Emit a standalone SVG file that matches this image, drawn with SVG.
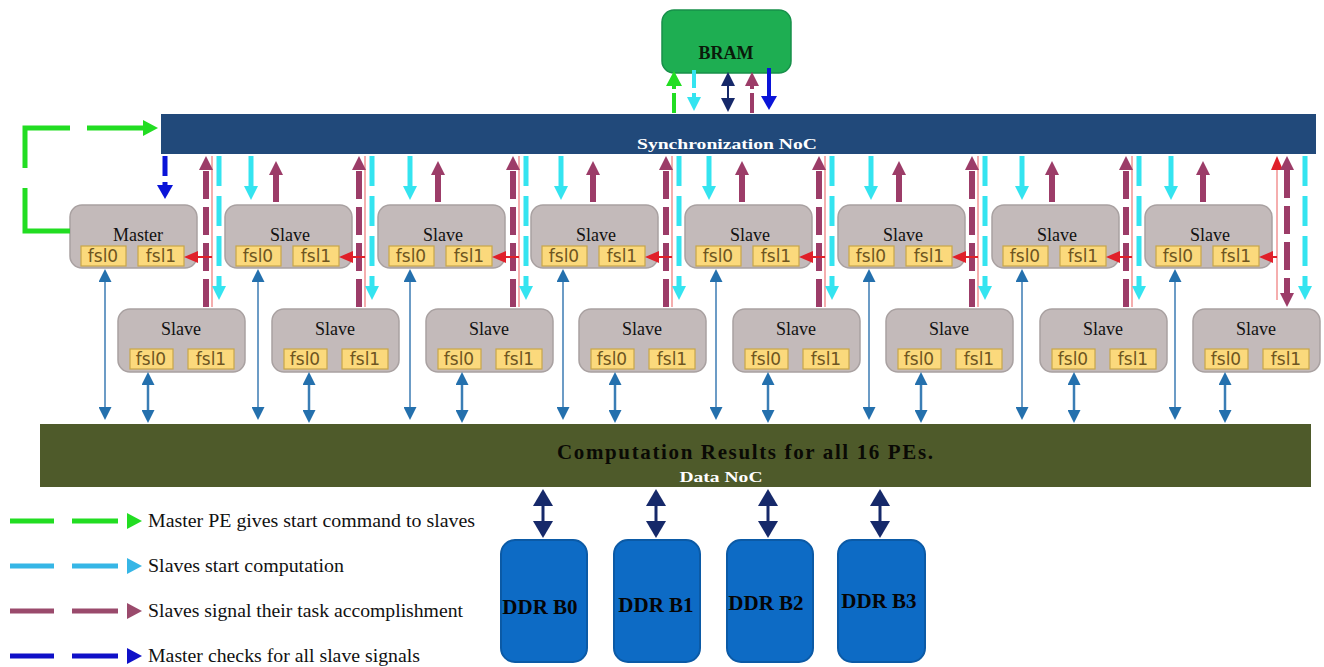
<svg xmlns="http://www.w3.org/2000/svg" width="1324" height="667" viewBox="0 0 1324 667" font-family="Liberation Serif, serif">
<style>
.node{fill:#c3baba;stroke:#a9a1a1;stroke-width:1.5}
.fsl{fill:#fbd97c;stroke:#c8a64a;stroke-width:1.2}
.fslt{font-family:"DejaVu Sans",sans-serif;font-size:17px;fill:#6e5520;text-anchor:middle}
.pe{font-size:18px;fill:#111;text-anchor:middle}
.pur{stroke:#9c3c68;stroke-width:6;fill:none;stroke-dasharray:28 8}
.cyan{stroke:#34e4f0;stroke-width:5;fill:none;stroke-dasharray:30 10}
.pink{stroke:#f39a9a;stroke-width:1.6;fill:none}
.red{stroke:#e0202a;stroke-width:2;fill:none}
.steel{stroke:#6c9cc6;stroke-width:2;fill:none}
.steel2{stroke:#3a7db5;stroke-width:2.5;fill:none}
.navy{stroke:#16296a;stroke-width:3;fill:none}
.leg{font-size:18px;fill:#111}
.ddr{fill:#0d6bc5;stroke:#0b5aa6;stroke-width:2}
.ddrt{font-size:21px;font-weight:bold;fill:#050505;text-anchor:middle}
</style>
<defs>
<marker id="mPur" viewBox="0 0 10 10" refX="0" refY="5" markerWidth="14" markerHeight="14" markerUnits="userSpaceOnUse" orient="auto-start-reverse"><path d="M0,0 L10,5 L0,10 z" fill="#9c3c68"/></marker>
<marker id="mCyan" viewBox="0 0 10 10" refX="0" refY="5" markerWidth="14" markerHeight="14" markerUnits="userSpaceOnUse" orient="auto-start-reverse"><path d="M0,0 L10,5 L0,10 z" fill="#34e4f0"/></marker>
<marker id="mBlue" viewBox="0 0 10 10" refX="0" refY="5" markerWidth="14" markerHeight="16" markerUnits="userSpaceOnUse" orient="auto-start-reverse" preserveAspectRatio="none"><path d="M0,0 L10,5 L0,10 z" fill="#0a14d8"/></marker>
<marker id="mGreen" viewBox="0 0 10 10" refX="0" refY="5" markerWidth="15" markerHeight="16" markerUnits="userSpaceOnUse" orient="auto-start-reverse" preserveAspectRatio="none"><path d="M0,0 L10,5 L0,10 z" fill="#22dd22"/></marker>
<marker id="mRed" viewBox="0 0 10 10" refX="0" refY="5" markerWidth="14" markerHeight="12" markerUnits="userSpaceOnUse" orient="auto-start-reverse" preserveAspectRatio="none"><path d="M0,0 L10,5 L0,10 z" fill="#e0202a"/></marker>
<marker id="mSteel" viewBox="0 0 10 10" refX="0" refY="5" markerWidth="13" markerHeight="13" markerUnits="userSpaceOnUse" orient="auto-start-reverse"><path d="M0,0 L10,5 L0,10 z" fill="#2470ad"/></marker>
<marker id="mNavy" viewBox="0 0 10 10" refX="0" refY="5" markerWidth="17" markerHeight="20" markerUnits="userSpaceOnUse" orient="auto-start-reverse" preserveAspectRatio="none"><path d="M0,0 L10,5 L0,10 z" fill="#16296a"/></marker>
<marker id="mNavyS" viewBox="0 0 10 10" refX="0" refY="5" markerWidth="14" markerHeight="14" markerUnits="userSpaceOnUse" orient="auto-start-reverse" preserveAspectRatio="none"><path d="M0,0 L10,5 L0,10 z" fill="#16296a"/></marker>
<marker id="lG" viewBox="0 0 10 10" refX="0" refY="5" markerWidth="15" markerHeight="16" markerUnits="userSpaceOnUse" orient="auto" preserveAspectRatio="none"><path d="M0,0 L10,5 L0,10 z" fill="#22dd22"/></marker>
<marker id="lC" viewBox="0 0 10 10" refX="0" refY="5" markerWidth="15" markerHeight="16" markerUnits="userSpaceOnUse" orient="auto" preserveAspectRatio="none"><path d="M0,0 L10,5 L0,10 z" fill="#36b6e6"/></marker>
<marker id="lP" viewBox="0 0 10 10" refX="0" refY="5" markerWidth="15" markerHeight="16" markerUnits="userSpaceOnUse" orient="auto" preserveAspectRatio="none"><path d="M0,0 L10,5 L0,10 z" fill="#9a4a6c"/></marker>
<marker id="lB" viewBox="0 0 10 10" refX="0" refY="5" markerWidth="15" markerHeight="16" markerUnits="userSpaceOnUse" orient="auto" preserveAspectRatio="none"><path d="M0,0 L10,5 L0,10 z" fill="#0f10c8"/></marker>
</defs>
<rect width="1324" height="667" fill="#ffffff"/>

<!-- BRAM -->
<g id="bram">
<rect x="662" y="10" width="129" height="63" rx="12" fill="#1eae52" stroke="#17904a" stroke-width="1.5"/>
<text x="726" y="59" font-size="18" font-weight="bold" fill="#0a1a0a" text-anchor="middle">BRAM</text>
</g>

<!-- Synchronization NoC -->
<g id="sync-noc">
<rect x="161" y="114" width="1155" height="40" fill="#21497a"/>
<text x="727" y="149" font-size="15" font-weight="bold" fill="#ffffff" text-anchor="middle" textLength="180" lengthAdjust="spacingAndGlyphs">Synchronization NoC</text>
</g>

<!-- Data NoC -->
<g id="data-noc">
<rect x="40" y="424" width="1271" height="63" fill="#4e5a2a"/>
<text x="745" y="459" font-size="21" font-weight="bold" fill="#0a0a05" text-anchor="middle" textLength="376" lengthAdjust="spacing">Computation Results for all 16 PEs.</text>
<text x="721" y="482" font-size="15" font-weight="bold" fill="#ffffff" text-anchor="middle" textLength="83" lengthAdjust="spacingAndGlyphs">Data NoC</text>
</g>

<!-- Upper row -->
<g id="master">
<rect class="node" x="70" y="205" width="127" height="63" rx="12"/>
<text class="pe" x="138" y="241">Master</text>
<rect class="fsl" x="81" y="246" width="45" height="20"/><text class="fslt" x="103" y="262">fsl0</text>
<rect class="fsl" x="138" y="246" width="46" height="20"/><text class="fslt" x="161" y="262">fsl1</text>
</g>
<g id="slave-u1"><rect class="node" x="225" y="205" width="127" height="63" rx="12"/><text class="pe" x="290" y="241">Slave</text>
<rect class="fsl" x="236" y="246" width="45" height="20"/><text class="fslt" x="258" y="262">fsl0</text>
<rect class="fsl" x="293" y="246" width="46" height="20"/><text class="fslt" x="316" y="262">fsl1</text></g>
<g id="slave-u2"><rect class="node" x="378" y="205" width="127" height="63" rx="12"/><text class="pe" x="443" y="241">Slave</text>
<rect class="fsl" x="389" y="246" width="45" height="20"/><text class="fslt" x="411" y="262">fsl0</text>
<rect class="fsl" x="446" y="246" width="46" height="20"/><text class="fslt" x="469" y="262">fsl1</text></g>
<g id="slave-u3"><rect class="node" x="531" y="205" width="127" height="63" rx="12"/><text class="pe" x="596" y="241">Slave</text>
<rect class="fsl" x="542" y="246" width="45" height="20"/><text class="fslt" x="564" y="262">fsl0</text>
<rect class="fsl" x="599" y="246" width="46" height="20"/><text class="fslt" x="622" y="262">fsl1</text></g>
<g id="slave-u4"><rect class="node" x="685" y="205" width="127" height="63" rx="12"/><text class="pe" x="750" y="241">Slave</text>
<rect class="fsl" x="696" y="246" width="45" height="20"/><text class="fslt" x="718" y="262">fsl0</text>
<rect class="fsl" x="753" y="246" width="46" height="20"/><text class="fslt" x="776" y="262">fsl1</text></g>
<g id="slave-u5"><rect class="node" x="838" y="205" width="127" height="63" rx="12"/><text class="pe" x="903" y="241">Slave</text>
<rect class="fsl" x="849" y="246" width="45" height="20"/><text class="fslt" x="871" y="262">fsl0</text>
<rect class="fsl" x="906" y="246" width="46" height="20"/><text class="fslt" x="929" y="262">fsl1</text></g>
<g id="slave-u6"><rect class="node" x="992" y="205" width="127" height="63" rx="12"/><text class="pe" x="1057" y="241">Slave</text>
<rect class="fsl" x="1003" y="246" width="45" height="20"/><text class="fslt" x="1025" y="262">fsl0</text>
<rect class="fsl" x="1060" y="246" width="46" height="20"/><text class="fslt" x="1083" y="262">fsl1</text></g>
<g id="slave-u7"><rect class="node" x="1145" y="205" width="127" height="63" rx="12"/><text class="pe" x="1210" y="241">Slave</text>
<rect class="fsl" x="1156" y="246" width="45" height="20"/><text class="fslt" x="1178" y="262">fsl0</text>
<rect class="fsl" x="1213" y="246" width="46" height="20"/><text class="fslt" x="1236" y="262">fsl1</text></g>

<!-- Lower row -->
<g id="slave-l0"><rect class="node" x="118" y="309" width="127" height="63" rx="12"/><text class="pe" x="181" y="335">Slave</text>
<rect class="fsl" x="130" y="349" width="43" height="20"/><text class="fslt" x="151" y="365">fsl0</text>
<rect class="fsl" x="188" y="349" width="46" height="20"/><text class="fslt" x="211" y="365">fsl1</text></g>
<g id="slave-l1"><rect class="node" x="272" y="309" width="127" height="63" rx="12"/><text class="pe" x="335" y="335">Slave</text>
<rect class="fsl" x="284" y="349" width="43" height="20"/><text class="fslt" x="305" y="365">fsl0</text>
<rect class="fsl" x="342" y="349" width="46" height="20"/><text class="fslt" x="365" y="365">fsl1</text></g>
<g id="slave-l2"><rect class="node" x="426" y="309" width="127" height="63" rx="12"/><text class="pe" x="489" y="335">Slave</text>
<rect class="fsl" x="438" y="349" width="43" height="20"/><text class="fslt" x="459" y="365">fsl0</text>
<rect class="fsl" x="496" y="349" width="46" height="20"/><text class="fslt" x="519" y="365">fsl1</text></g>
<g id="slave-l3"><rect class="node" x="579" y="309" width="127" height="63" rx="12"/><text class="pe" x="642" y="335">Slave</text>
<rect class="fsl" x="591" y="349" width="43" height="20"/><text class="fslt" x="612" y="365">fsl0</text>
<rect class="fsl" x="649" y="349" width="46" height="20"/><text class="fslt" x="672" y="365">fsl1</text></g>
<g id="slave-l4"><rect class="node" x="733" y="309" width="127" height="63" rx="12"/><text class="pe" x="796" y="335">Slave</text>
<rect class="fsl" x="745" y="349" width="43" height="20"/><text class="fslt" x="766" y="365">fsl0</text>
<rect class="fsl" x="803" y="349" width="46" height="20"/><text class="fslt" x="826" y="365">fsl1</text></g>
<g id="slave-l5"><rect class="node" x="886" y="309" width="127" height="63" rx="12"/><text class="pe" x="949" y="335">Slave</text>
<rect class="fsl" x="898" y="349" width="43" height="20"/><text class="fslt" x="919" y="365">fsl0</text>
<rect class="fsl" x="956" y="349" width="46" height="20"/><text class="fslt" x="979" y="365">fsl1</text></g>
<g id="slave-l6"><rect class="node" x="1040" y="309" width="127" height="63" rx="12"/><text class="pe" x="1103" y="335">Slave</text>
<rect class="fsl" x="1052" y="349" width="43" height="20"/><text class="fslt" x="1073" y="365">fsl0</text>
<rect class="fsl" x="1110" y="349" width="46" height="20"/><text class="fslt" x="1133" y="365">fsl1</text></g>
<g id="slave-l7"><rect class="node" x="1193" y="309" width="127" height="63" rx="12"/><text class="pe" x="1256" y="335">Slave</text>
<rect class="fsl" x="1205" y="349" width="43" height="20"/><text class="fslt" x="1226" y="365">fsl0</text>
<rect class="fsl" x="1263" y="349" width="46" height="20"/><text class="fslt" x="1286" y="365">fsl1</text></g>

<!-- DDR banks -->
<g id="ddr-b0"><rect class="ddr" x="501" y="540" width="86" height="122" rx="14"/><text class="ddrt" x="540" y="614">DDR B0</text></g>
<g id="ddr-b1"><rect class="ddr" x="614" y="540" width="86" height="122" rx="14"/><text class="ddrt" x="656" y="612">DDR B1</text></g>
<g id="ddr-b2"><rect class="ddr" x="727" y="540" width="86" height="122" rx="14"/><text class="ddrt" x="766" y="610">DDR B2</text></g>
<g id="ddr-b3"><rect class="ddr" x="838" y="540" width="87" height="122" rx="14"/><text class="ddrt" x="879" y="608">DDR B3</text></g>

<g id="connectors">
<!-- BRAM <-> Sync NoC -->
<line x1="674" y1="113" x2="674" y2="86" stroke="#22dd22" stroke-width="4" stroke-dasharray="20 4" marker-end="url(#mGreen)"/>
<line x1="694" y1="70" x2="694" y2="97" stroke="#34e4f0" stroke-width="4" stroke-dasharray="18 5" marker-end="url(#mCyan)"/>
<line x1="728" y1="86" x2="728" y2="98" stroke="#16296a" stroke-width="2" marker-start="url(#mNavyS)" marker-end="url(#mNavyS)"/>
<line x1="752" y1="113" x2="752" y2="86" stroke="#9c3c68" stroke-width="4" stroke-dasharray="20 4" marker-end="url(#mPur)"/>
<line x1="769" y1="68" x2="769" y2="96" stroke="#0a14d8" stroke-width="4" marker-end="url(#mBlue)"/>

<!-- Master start-command loop -->
<path d="M70,231 H25 V128 H143" fill="none" stroke="#22dd22" stroke-width="5" stroke-dasharray="88 20 85 17 60" marker-end="url(#mGreen)"/>
<!-- Master checks slave signals -->
<line x1="165" y1="156" x2="165" y2="185" stroke="#0a14d8" stroke-width="5" stroke-dasharray="20 6" marker-end="url(#mBlue)"/>

<!-- short arrows above upper slaves -->
<line x1="251" y1="156" x2="251" y2="186" class="cyan" stroke-dasharray="16 6" marker-end="url(#mCyan)"/>
<line x1="276" y1="202" x2="276" y2="175" class="pur" stroke-dasharray="22 6" marker-end="url(#mPur)"/>
<line x1="410" y1="156" x2="410" y2="186" class="cyan" stroke-dasharray="16 6" marker-end="url(#mCyan)"/>
<line x1="438" y1="202" x2="438" y2="175" class="pur" stroke-dasharray="22 6" marker-end="url(#mPur)"/>
<line x1="561" y1="156" x2="561" y2="186" class="cyan" stroke-dasharray="16 6" marker-end="url(#mCyan)"/>
<line x1="593" y1="202" x2="593" y2="175" class="pur" stroke-dasharray="22 6" marker-end="url(#mPur)"/>
<line x1="709" y1="156" x2="709" y2="186" class="cyan" stroke-dasharray="16 6" marker-end="url(#mCyan)"/>
<line x1="742" y1="202" x2="742" y2="175" class="pur" stroke-dasharray="22 6" marker-end="url(#mPur)"/>
<line x1="871" y1="156" x2="871" y2="186" class="cyan" stroke-dasharray="16 6" marker-end="url(#mCyan)"/>
<line x1="899" y1="202" x2="899" y2="175" class="pur" stroke-dasharray="22 6" marker-end="url(#mPur)"/>
<line x1="1022" y1="156" x2="1022" y2="186" class="cyan" stroke-dasharray="16 6" marker-end="url(#mCyan)"/>
<line x1="1052" y1="202" x2="1052" y2="175" class="pur" stroke-dasharray="22 6" marker-end="url(#mPur)"/>
<line x1="1171" y1="156" x2="1171" y2="186" class="cyan" stroke-dasharray="16 6" marker-end="url(#mCyan)"/>
<line x1="1203" y1="202" x2="1203" y2="175" class="pur" stroke-dasharray="22 6" marker-end="url(#mPur)"/>

<!-- column links to lower slaves -->
<line class="pink" x1="212" y1="156" x2="212" y2="307"/>
<line class="pur" x1="206" y1="307" x2="206" y2="170" marker-end="url(#mPur)"/>
<line class="cyan" x1="219" y1="156" x2="219" y2="286" marker-end="url(#mCyan)"/>
<line class="red" x1="212" y1="257" x2="198" y2="257" marker-end="url(#mRed)"/>

<line class="pink" x1="365" y1="156" x2="365" y2="307"/>
<line class="pur" x1="359" y1="307" x2="359" y2="170" marker-end="url(#mPur)"/>
<line class="cyan" x1="372" y1="156" x2="372" y2="286" marker-end="url(#mCyan)"/>
<line class="red" x1="365" y1="257" x2="353" y2="257" marker-end="url(#mRed)"/>

<line class="pink" x1="519" y1="156" x2="519" y2="307"/>
<line class="pur" x1="513" y1="307" x2="513" y2="170" marker-end="url(#mPur)"/>
<line class="cyan" x1="526" y1="156" x2="526" y2="286" marker-end="url(#mCyan)"/>
<line class="red" x1="519" y1="257" x2="506" y2="257" marker-end="url(#mRed)"/>

<line class="pink" x1="672" y1="156" x2="672" y2="307"/>
<line class="pur" x1="666" y1="307" x2="666" y2="170" marker-end="url(#mPur)"/>
<line class="cyan" x1="679" y1="156" x2="679" y2="286" marker-end="url(#mCyan)"/>
<line class="red" x1="672" y1="257" x2="659" y2="257" marker-end="url(#mRed)"/>

<line class="pink" x1="825" y1="156" x2="825" y2="307"/>
<line class="pur" x1="819" y1="307" x2="819" y2="170" marker-end="url(#mPur)"/>
<line class="cyan" x1="832" y1="156" x2="832" y2="286" marker-end="url(#mCyan)"/>
<line class="red" x1="825" y1="257" x2="813" y2="257" marker-end="url(#mRed)"/>

<line class="pink" x1="978" y1="156" x2="978" y2="307"/>
<line class="pur" x1="972" y1="307" x2="972" y2="170" marker-end="url(#mPur)"/>
<line class="cyan" x1="985" y1="156" x2="985" y2="286" marker-end="url(#mCyan)"/>
<line class="red" x1="978" y1="257" x2="966" y2="257" marker-end="url(#mRed)"/>

<line class="pink" x1="1132" y1="156" x2="1132" y2="307"/>
<line class="pur" x1="1126" y1="307" x2="1126" y2="170" marker-end="url(#mPur)"/>
<line class="cyan" x1="1139" y1="156" x2="1139" y2="286" marker-end="url(#mCyan)"/>
<line class="red" x1="1132" y1="257" x2="1120" y2="257" marker-end="url(#mRed)"/>

<line class="pink" x1="1277" y1="300" x2="1277" y2="170" marker-end="url(#mRed)"/>
<line class="pur" x1="1287" y1="170" x2="1287" y2="293" marker-start="url(#mPur)" marker-end="url(#mPur)"/>
<line class="cyan" x1="1305" y1="156" x2="1305" y2="286" marker-end="url(#mCyan)"/>
<line class="red" x1="1277" y1="257" x2="1273" y2="257" marker-end="url(#mRed)"/>

<!-- upper fsl0 <-> Data NoC -->
<line class="steel" x1="105" y1="282" x2="105" y2="407" marker-start="url(#mSteel)" marker-end="url(#mSteel)"/>
<line class="steel" x1="258" y1="282" x2="258" y2="407" marker-start="url(#mSteel)" marker-end="url(#mSteel)"/>
<line class="steel" x1="410" y1="282" x2="410" y2="407" marker-start="url(#mSteel)" marker-end="url(#mSteel)"/>
<line class="steel" x1="563" y1="282" x2="563" y2="407" marker-start="url(#mSteel)" marker-end="url(#mSteel)"/>
<line class="steel" x1="716" y1="282" x2="716" y2="407" marker-start="url(#mSteel)" marker-end="url(#mSteel)"/>
<line class="steel" x1="869" y1="282" x2="869" y2="407" marker-start="url(#mSteel)" marker-end="url(#mSteel)"/>
<line class="steel" x1="1022" y1="282" x2="1022" y2="407" marker-start="url(#mSteel)" marker-end="url(#mSteel)"/>
<line class="steel" x1="1175" y1="282" x2="1175" y2="407" marker-start="url(#mSteel)" marker-end="url(#mSteel)"/>

<!-- lower fsl0 <-> Data NoC -->
<line class="steel2" x1="148" y1="385" x2="148" y2="410" marker-start="url(#mSteel)" marker-end="url(#mSteel)"/>
<line class="steel2" x1="309" y1="385" x2="309" y2="410" marker-start="url(#mSteel)" marker-end="url(#mSteel)"/>
<line class="steel2" x1="462" y1="385" x2="462" y2="410" marker-start="url(#mSteel)" marker-end="url(#mSteel)"/>
<line class="steel2" x1="615" y1="385" x2="615" y2="410" marker-start="url(#mSteel)" marker-end="url(#mSteel)"/>
<line class="steel2" x1="768" y1="385" x2="768" y2="410" marker-start="url(#mSteel)" marker-end="url(#mSteel)"/>
<line class="steel2" x1="921" y1="385" x2="921" y2="410" marker-start="url(#mSteel)" marker-end="url(#mSteel)"/>
<line class="steel2" x1="1074" y1="385" x2="1074" y2="410" marker-start="url(#mSteel)" marker-end="url(#mSteel)"/>
<line class="steel2" x1="1225" y1="385" x2="1225" y2="410" marker-start="url(#mSteel)" marker-end="url(#mSteel)"/>

<!-- Data NoC <-> DDR -->
<line class="navy" x1="543" y1="506" x2="543" y2="521" marker-start="url(#mNavy)" marker-end="url(#mNavy)"/>
<line class="navy" x1="656" y1="506" x2="656" y2="521" marker-start="url(#mNavy)" marker-end="url(#mNavy)"/>
<line class="navy" x1="768" y1="506" x2="768" y2="521" marker-start="url(#mNavy)" marker-end="url(#mNavy)"/>
<line class="navy" x1="880" y1="506" x2="880" y2="521" marker-start="url(#mNavy)" marker-end="url(#mNavy)"/>
</g>

<!-- Legend -->
<g id="legend">
<line x1="10" y1="521" x2="127" y2="521" stroke="#22dd22" stroke-width="5" stroke-dasharray="44 18 46 20" marker-end="url(#lG)"/>
<text class="leg" x="148" y="527" textLength="327" lengthAdjust="spacingAndGlyphs">Master PE gives start command to slaves</text>
<line x1="10" y1="566" x2="127" y2="566" stroke="#36b6e6" stroke-width="5" stroke-dasharray="44 18 46 20" marker-end="url(#lC)"/>
<text class="leg" x="148" y="572" textLength="196" lengthAdjust="spacingAndGlyphs">Slaves start computation</text>
<line x1="10" y1="611" x2="127" y2="611" stroke="#9a4a6c" stroke-width="5" stroke-dasharray="44 18 46 20" marker-end="url(#lP)"/>
<text class="leg" x="148" y="617" textLength="315" lengthAdjust="spacingAndGlyphs">Slaves signal their task accomplishment</text>
<line x1="10" y1="656" x2="127" y2="656" stroke="#0f10c8" stroke-width="5" stroke-dasharray="44 18 46 20" marker-end="url(#lB)"/>
<text class="leg" x="148" y="662" textLength="272" lengthAdjust="spacingAndGlyphs">Master checks for all slave signals</text>
</g>
</svg>
